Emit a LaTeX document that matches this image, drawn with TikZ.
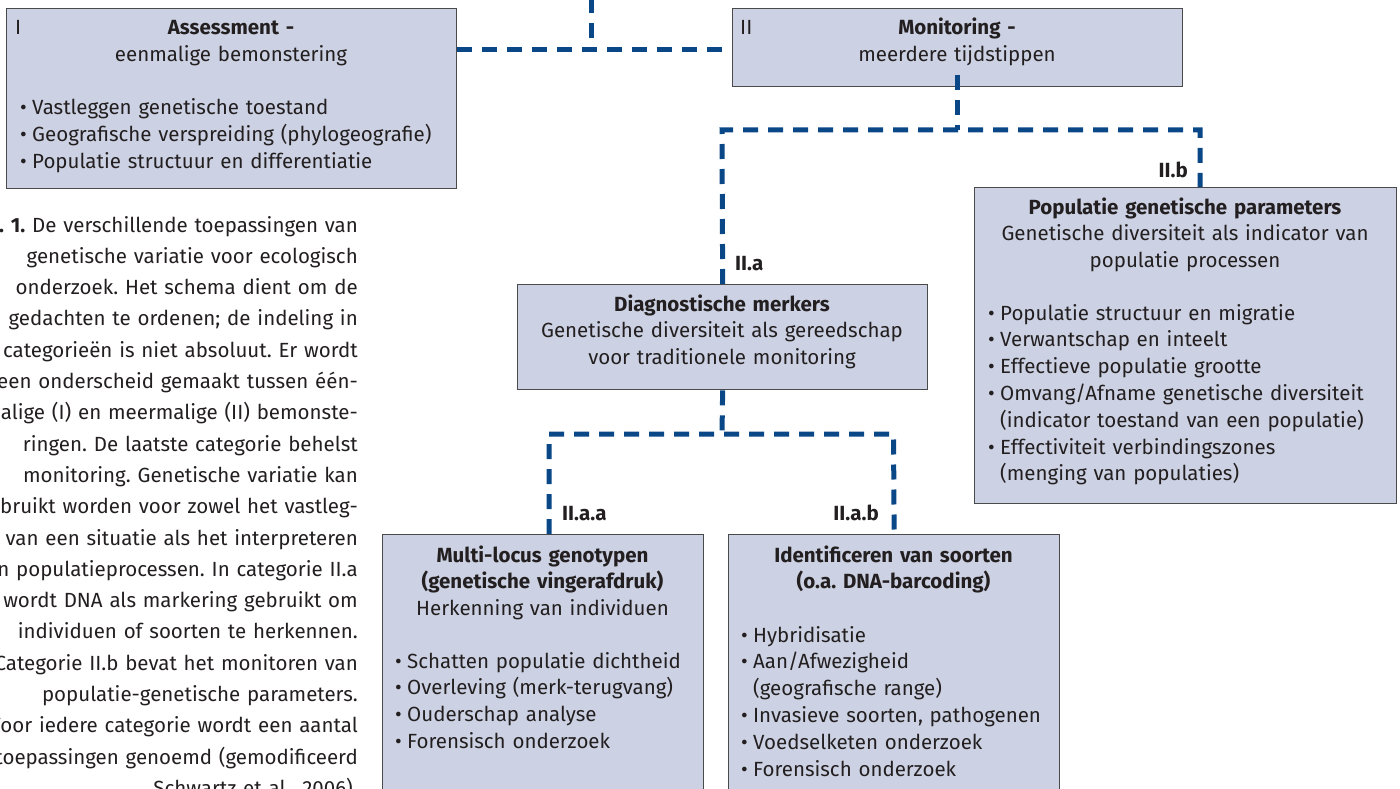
\documentclass[tikz,border=0pt]{standalone}
\usepackage{fontspec}
\setmainfont{Fira Sans}
\frenchspacing
\definecolor{boxfill}{HTML}{CCD2E3}
\definecolor{boxline}{HTML}{4A4A4A}
\definecolor{linkblue}{HTML}{0A4787}
\definecolor{txtcol}{HTML}{231F20}
\newcommand{\mybul}{\makebox[12pt][l]{•}}
\newcommand{\mycont}{\hspace*{12pt}}
\begin{document}
\begin{tikzpicture}[x=1pt,y=-1pt,
  box/.style={draw=boxline, fill=boxfill, line width=1.3pt, inner sep=0pt, anchor=north west},
  txt/.style={text=txtcol, inner sep=0pt, font=\fontsize{20.5}{26.8}\selectfont\frenchspacing},
  ttl/.style={txt, text width=#1, align=center, anchor=base},
  bul/.style={txt, text width=430pt, align=left, anchor=base west},
  lbl/.style={txt, font=\fontsize{20.5}{26.8}\selectfont\bfseries},
  conn/.style={draw=linkblue, line width=5pt, dash pattern=on 15pt off 10pt}]
\useasboundingbox (0,0) rectangle (1400,789);
\clip (0,0) rectangle (1400,789);

% boxes
\node[box, minimum width=450pt, minimum height=180pt] (I) at (6,8) {};
\node[box, minimum width=450pt, minimum height=78pt] (II) at (732,8) {};
\node[box, minimum width=422pt, minimum height=316pt] (IIb) at (974,187) {};
\node[box, minimum width=410pt, minimum height=105pt] (IIa) at (517,284) {};
\node[box, minimum width=321pt, minimum height=280pt] (IIaa) at (382,534) {};
\node[box, minimum width=331pt, minimum height=280pt] (IIab) at (728,534) {};

% box I
\node[txt, anchor=base west] (Ilab) at (15,35) {I};
\node[ttl=440pt] (Ititle) at (231,35) {\textbf{Assessment -}\\eenmalige bemonstering};
\node[bul] (Ibul) at (20,115) {\mybul Vastleggen genetische toestand\\
\mybul Geografische verspreiding (phylogeografie)\\
\mybul Populatie structuur en differentiatie};

% box II
\node[txt, anchor=base west] (IIlab) at (740,35) {II};
\node[ttl=440pt] (IItitle) at (957,35) {\textbf{Monitoring -}\\meerdere tijdstippen};

% box II.b
\node[ttl=415pt] (IIbtitle) at (1185,214) {\textbf{Populatie genetische parameters}\\Genetische diversiteit als indicator van\\populatie processen};
\node[bul] (IIbbul) at (988,320) {\mybul Populatie structuur en migratie\\
\mybul Verwantschap en inteelt\\
\mybul Effectieve populatie grootte\\
\mybul Omvang/Afname genetische diversiteit\\
\mycont(indicator toestand van een populatie)\\
\mybul Effectiviteit verbindingszones\\
\mycont(menging van populaties)};

% box II.a
\node[ttl=405pt] (IIatitle) at (722,311) {\textbf{Diagnostische merkers}\\Genetische diversiteit als gereedschap\\voor traditionele monitoring};

% box II.a.a
\node[ttl=315pt] (IIaatitle) at (542.5,562) {\textbf{Multi-locus genotypen}\\\textbf{(genetische vingerafdruk)}\\Herkenning van individuen};
\node[bul] (IIaabul) at (395,668) {\mybul Schatten populatie dichtheid\\
\mybul Overleving (merk-terugvang)\\
\mybul Ouderschap analyse\\
\mybul Forensisch onderzoek};

% box II.a.b
\node[ttl=325pt] (IIabtitle) at (893.5,562) {\textbf{Identificeren van soorten}\\\textbf{(o.a. DNA-barcoding)}};
\node[bul] (IIabbul) at (741,642) {\mybul Hybridisatie\\
\mybul Aan/Afwezigheid\\
\mycont(geografische range)\\
\mybul Invasieve soorten, pathogenen\\
\mybul Voedselketen onderzoek\\
\mybul Forensisch onderzoek};

% branch labels
\node[lbl, anchor=base west] (lIIa) at (735,270) {II.a};
\node[lbl, anchor=base east] (lIIb) at (1188,177) {II.b};
\node[lbl, anchor=base west] (lIIaa) at (562,520) {II.a.a};
\node[lbl, anchor=base east] (lIIab) at (879,520) {II.a.b};

% connectors
\coordinate (t0) at (591,-2);
\coordinate (j1) at (591,50);
\coordinate (s2) at (957,75);
\coordinate (j2) at (957,130);
\coordinate (a1) at (722,130);
\coordinate (b1) at (1200,130);
\coordinate (c0) at (722,434);
\coordinate (c1) at (549,434);
\coordinate (c2) at (893.5,434);
\draw[conn] (t0) -- (j1);
\draw[conn] (I.east |- j1) -- (II.west |- j1);
\draw[conn] (s2) -- (j2);
\draw[conn] (IIa.north) -- (a1) -- (b1) -- (b1 |- IIb.north);
\draw[conn] (IIa.south) -- (c0);
\draw[conn] (c1 |- IIaa.north) -- (c1) -- (c2) -- (IIab.north);

% caption
\node[txt, font=\fontsize{20.5}{31.3}\selectfont\frenchspacing, text width=600pt, align=right, anchor=base east] (cap) at (358,232) {%
\textbf{Fig. 1.} De verschillende toepassingen van\\
genetische variatie voor ecologisch\\
onderzoek. Het schema dient om de\\
gedachten te ordenen; de indeling in\\
categorieën is niet absoluut. Er wordt\\
een onderscheid gemaakt tussen één-\\
malige (I) en meermalige (II) bemonste-\\
ringen. De laatste categorie behelst\\
monitoring. Genetische variatie kan\\
gebruikt worden voor zowel het vastleg-\\
gen van een situatie als het interpreteren\\
van populatieprocessen. In categorie II.a\\
wordt DNA als markering gebruikt om\\
individuen of soorten te herkennen.\\
Categorie II.b bevat het monitoren van\\
populatie-genetische parameters.\\
Voor iedere categorie wordt een aantal\\
toepassingen genoemd (gemodificeerd\\
Schwartz et al., 2006).};
\end{tikzpicture}
\end{document}
